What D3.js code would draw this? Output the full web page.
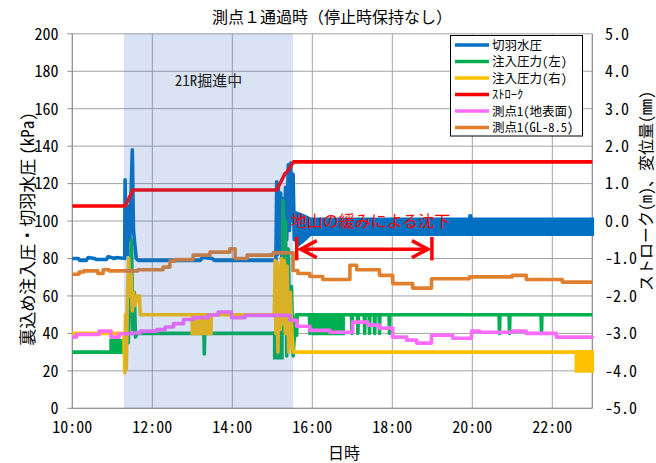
<!DOCTYPE html>
<html><head><meta charset="utf-8">
<script src="https://cdn.jsdelivr.net/npm/d3@7"></script>
<style>
body{margin:0;background:#fff;}
svg text{font-family:"Noto Sans CJK JP","Noto Sans CJK SC",sans-serif;}
.hw{font-feature-settings:"hwid";}
</style></head><body>
<svg id="chart" width="656" height="463"></svg>
<script>
// ---------- data (time in decimal hours) ----------
const xTickHours = [10,12,14,16,18,20,22];
const xTickLabels = ["10:00","12:00","14:00","16:00","18:00","20:00","22:00"];
const leftTicks = [0,20,40,60,80,100,120,140,160,180,200];
const rightTicks = [-5,-4,-3,-2,-1,0,1,2,3,4,5];
const seriesNames = ["切羽水圧","注入圧力(左)","注入圧力(右)","ｽﾄﾛｰｸ","測点1(地表面)","測点1(GL-8.5)"];

const shadeRange = [11.29, 15.52];
const shadeLabel = "21R掘進中";
const settleLabel = "地山の緩みによる沈下";
const settleSpan = [15.61, 18.99];

// 切羽水圧 (kPa)
const faceWater = [[10.00,80],[10.15,80],[10.18,79],[10.35,79],[10.40,80.5],[10.55,80],[10.60,79.5],[10.85,79.5],[10.90,81],[11.05,80],[11.10,80.5],[11.31,80],
 [11.32,122],[11.34,84],[11.36,100],[11.38,82],[11.41,108],[11.44,90],[11.47,115],[11.50,138],[11.53,95],[11.56,88],[11.60,80],
 [11.65,79],[13.20,79],[13.25,80.5],[13.50,80],[13.55,79],[15.09,79],
 [15.11,121],[15.13,82],[15.15,118],[15.18,85],[15.21,115],[15.24,80],[15.27,112],[15.30,84],[15.33,118],[15.36,90],[15.40,130],[15.43,95],[15.46,131],[15.49,100],[15.52,125],[15.55,90],[15.58,104],[15.61,88],[15.63,97]];
// rapid oscillation envelope of 切羽水圧: [time, low, high]
const faceBand = [[15.62,87,104],[15.75,89,103],[15.95,93,101],[19.93,93,101],[19.95,93,103.5],[19.97,93,101],[23.00,93,101]];

// 注入圧力(左) (kPa)
const injLeft = [[10.00,30],[10.97,30],[11.28,33],[11.31,36],[11.33,27],[11.36,50],[11.40,35],[11.44,70],[11.48,90],[11.51,42],[11.55,62],[11.58,38],[11.62,40],
 [13.29,40],[13.30,29],[13.31,40],[15.06,40],[15.24,40],[15.27,111],[15.30,55],[15.33,100],[15.36,28],[15.40,85],[15.44,35],[15.48,65],[15.52,28],[15.57,45],[15.60,50],
 [15.61,39],[15.62,50],[15.93,50],[15.94,40],[15.95,50],[16.02,50],[16.77,50],
 [16.98,50],[16.99,40],[17.00,50],[17.13,50],[17.14,40],[17.15,50],[17.30,50],[17.31,40],[17.32,50],[17.42,50],[17.43,40],[17.44,50],
 [17.55,50],[17.56,40],[17.57,50],[17.67,50],[17.68,40],[17.69,50],[17.92,50],[17.93,40],[17.94,50],
 [20.67,50],[20.68,40],[20.69,50],[20.92,50],[20.93,40],[20.94,50],[21.72,50],[21.73,40],[21.74,50],[23.00,50]];
// rapid oscillation blocks: [start, end, low, high]
const injLeftBlocks = [[10.97,11.28,30,36],[15.06,15.24,27,40],[16.02,16.77,40,50]];

// 注入圧力(右) (kPa)
const injRight = [[10.00,40],[11.29,40],[11.31,19],[11.33,50],[11.35,21],[11.38,62],[11.41,80],[11.44,60],[11.47,72],[11.50,52],[11.53,62],[11.57,55],[11.62,60],[11.68,60],[11.70,50],
 [15.05,50],[15.07,79],[15.09,40],[15.12,78],[15.14,30],[15.17,76],[15.20,42],[15.23,80],[15.26,45],[15.30,79],[15.33,40],[15.37,76],[15.41,30],[15.45,62],[15.49,40],[15.52,30],[23.00,30]];
const injRightBlocks = [[13.00,13.47,40,49],[22.60,23.00,20,30]];

// ストローク (m)
const stroke = [[10.00,0.40],[11.32,0.40],[11.52,0.83],[15.11,0.83],[15.32,1.27],[15.36,1.30],[15.53,1.58],[23.00,1.58]];

// 測点1(地表面) (mm)
const surface = [[10.00,-3.10],[10.10,-3.03],[10.67,-2.94],[10.97,-3.10],[11.17,-3.01],[11.49,-2.99],[11.70,-2.94],[12.11,-2.90],[12.32,-2.83],[12.53,-2.74],[12.78,-2.63],[13.03,-2.58],[13.40,-2.51],[13.65,-2.43],[13.98,-2.58],[14.32,-2.52],[15.44,-2.65],[15.61,-2.81],[15.94,-2.92],[16.44,-2.97],[17.01,-2.70],[17.39,-2.78],[17.68,-2.86],[18.01,-3.10],[18.36,-3.18],[18.61,-3.26],[18.98,-3.05],[19.51,-3.13],[19.98,-2.94],[20.18,-2.97],[21.00,-2.94],[21.35,-3.00],[22.10,-3.10],[23.00,-3.12]];

// 測点1(GL-8.5) (mm)
const deep = [[10.00,-1.42],[10.17,-1.36],[10.29,-1.33],[10.64,-1.40],[10.77,-1.30],[10.92,-1.33],[11.64,-1.30],[12.27,-1.23],[12.44,-1.07],[12.57,-1.03],[13.02,-0.91],[13.44,-0.83],[13.94,-0.74],[14.07,-1.00],[14.37,-0.91],[15.02,-0.85],[15.52,-1.32],[15.64,-1.40],[15.94,-1.48],[16.26,-1.56],[16.94,-1.18],[17.11,-1.30],[17.68,-1.45],[18.01,-1.67],[18.51,-1.79],[18.98,-1.54],[19.93,-1.49],[21.00,-1.45],[21.35,-1.56],[22.25,-1.63],[23.00,-1.63]];

// ---------- styles ----------
const colors = ["#0070C0","#00B050","#FFC000","#FF0000","#FF6BFF","#E0802F"];
const LW = 3.6;

const svg = d3.select("#chart");
const W = 656, H = 463;
const pl = 72.3, pr = 592.3, pt = 33.8, pb = 408.3;

const x = d3.scaleLinear().domain([10,23]).range([pl,pr]);
const yL = d3.scaleLinear().domain([0,200]).range([pb,pt]);
const yR = d3.scaleLinear().domain([-5,5]).range([pb,pt]);

svg.append("rect").attr("width",W).attr("height",H).attr("fill","#fff");

// grid
const grid = svg.append("g");
grid.selectAll("line.h").data(leftTicks).join("line")
  .attr("x1",pl).attr("x2",pr).attr("y1",d=>yL(d)).attr("y2",d=>yL(d))
  .attr("stroke","#a3a3a3").attr("stroke-width",1);
grid.selectAll("line.v").data(xTickHours.concat([23])).join("line")
  .attr("x1",d=>x(d)).attr("x2",d=>x(d)).attr("y1",pt).attr("y2",pb)
  .attr("stroke","#a3a3a3").attr("stroke-width",1);
// axis lines
svg.append("line").attr("x1",pl).attr("x2",pl).attr("y1",pt).attr("y2",pb).attr("stroke","#8c8c8c");
svg.append("line").attr("x1",pr).attr("x2",pr).attr("y1",pt).attr("y2",pb).attr("stroke","#8c8c8c");
svg.append("line").attr("x1",pl).attr("x2",pr).attr("y1",pb).attr("y2",pb).attr("stroke","#8c8c8c");
// left ticks outward
svg.selectAll("line.lt").data(leftTicks).join("line")
  .attr("x1",pl-5).attr("x2",pl).attr("y1",d=>yL(d)).attr("y2",d=>yL(d)).attr("stroke","#8c8c8c");

const plot = svg.append("g");
const lineL = d3.line().x(d=>x(d[0])).y(d=>yL(d[1]));
const lineR = d3.line().x(d=>x(d[0])).y(d=>yR(d[1]));
const lineRStep = d3.line().x(d=>x(d[0])).y(d=>yR(d[1])).curve(d3.curveStepAfter);
const bandArea = d3.area().x(d=>x(d[0])).y0(d=>yL(d[1])).y1(d=>yL(d[2]));
function drawBlocks(blocks, color){
  blocks.forEach(b=>{
    plot.append("path").datum([[b[0],b[2],b[3]],[b[1],b[2],b[3]]])
      .attr("d",bandArea).attr("fill",color).attr("stroke",color)
      .attr("stroke-width",LW).attr("stroke-linejoin","miter");
  });
}
function drawLine(data, gen, color){
  plot.append("path").datum(data).attr("d",gen).attr("fill","none")
    .attr("stroke",color).attr("stroke-width",LW).attr("stroke-linejoin","round");
}
// 切羽水圧
drawLine(faceWater, lineL, colors[0]);
plot.append("path").datum(faceBand).attr("d",bandArea).attr("fill",colors[0])
  .attr("stroke",colors[0]).attr("stroke-width",LW);
// 注入圧力(左)
drawLine(injLeft, lineL, colors[1]);
drawBlocks(injLeftBlocks, colors[1]);
// 注入圧力(右)
drawLine(injRight, lineL, colors[2]);
drawBlocks(injRightBlocks, colors[2]);
// ストローク
drawLine(stroke, lineR, colors[3]);
// 測点1
drawLine(surface, lineRStep, colors[4]);
drawLine(deep, lineRStep, colors[5]);

// shaded excavation period (overlay)
svg.append("rect").attr("x",x(shadeRange[0])).attr("y",pt)
  .attr("width",x(shadeRange[1])-x(shadeRange[0])).attr("height",pb-pt)
  .attr("fill","#4472C4").attr("fill-opacity",0.2);
svg.append("text").attr("class","hw").attr("x",(x(shadeRange[0])+x(shadeRange[1]))/2).attr("y",86)
  .attr("text-anchor","middle").attr("font-size",15).attr("fill","#222").text(shadeLabel);

// settlement annotation
const red = "#FF0000";
const ax0 = x(settleSpan[0]), ax1 = x(settleSpan[1]);
const ay = yL(85), byTop = yL(91.5), byBot = yL(79);
const ann = svg.append("g").attr("stroke",red).attr("stroke-width",3.5).attr("fill","none");
ann.append("line").attr("x1",ax0).attr("x2",ax0).attr("y1",byTop).attr("y2",byBot);
ann.append("line").attr("x1",ax1).attr("x2",ax1).attr("y1",byTop).attr("y2",byBot);
ann.append("line").attr("x1",ax0+4).attr("x2",ax1-4).attr("y1",ay).attr("y2",ay);
ann.append("path").attr("d",`M${ax0+20},${ay-8.5}L${ax0+4},${ay}L${ax0+20},${ay+8.5}`);
ann.append("path").attr("d",`M${ax1-20},${ay-8.5}L${ax1-4},${ay}L${ax1-20},${ay+8.5}`);
svg.append("text").attr("x",ax0-6).attr("y",227).attr("font-size",16).attr("fill",red).text(settleLabel);

// tick labels
svg.selectAll("text.yl").data(leftTicks).join("text").attr("class","hw")
  .attr("x",58.5).attr("y",d=>yL(d)+5.8).attr("text-anchor","end").attr("font-size",16).attr("fill","#000")
  .text(d=>d);
svg.selectAll("text.yr").data(rightTicks).join("text").attr("class","hw")
  .attr("x",605).attr("y",d=>yR(d)+5.8).attr("text-anchor","start").attr("font-size",16).attr("fill","#000")
  .text(d=>d.toFixed(1));
svg.selectAll("text.xt").data(xTickHours).join("text").attr("class","hw")
  .attr("x",d=>x(d)).attr("y",433).attr("text-anchor","middle").attr("font-size",16).attr("fill","#000")
  .text((d,i)=>xTickLabels[i]);

// titles
svg.append("text").attr("x",332).attr("y",23).attr("text-anchor","middle").attr("font-size",16).attr("fill","#000")
  .text("測点１通過時（停止時保持なし）");
svg.append("text").attr("x",344).attr("y",459).attr("text-anchor","middle").attr("font-size",16).attr("fill","#000").text("日時");
const lt = svg.append("text").attr("transform","translate(34,229) rotate(-90)").attr("text-anchor","middle").attr("font-size",17).attr("fill","#000");
lt.append("tspan").text("裏込め注入圧・切羽水圧 ");
lt.append("tspan").attr("class","hw").text("(kPa)");
const rt = svg.append("text").attr("transform","translate(652,191) rotate(-90)").attr("text-anchor","middle").attr("font-size",16).attr("fill","#000");
rt.append("tspan").text("ストローク");
rt.append("tspan").attr("class","hw").text("(m)");
rt.append("tspan").text("、変位量");
rt.append("tspan").attr("class","hw").text("(mm)");

// legend
const lg = svg.append("g");
lg.append("rect").attr("x",450.5).attr("y",35.5).attr("width",132).attr("height",100.5)
  .attr("fill","#fff").attr("stroke","#000").attr("stroke-width",1);
seriesNames.forEach((n,i)=>{
  const yy = 45 + i*16.5;
  lg.append("line").attr("x1",455).attr("x2",489).attr("y1",yy).attr("y2",yy)
    .attr("stroke",colors[i]).attr("stroke-width",LW);
  lg.append("text").attr("class","hw").attr("x",492).attr("y",yy+4.5).attr("font-size",12.5).attr("fill","#000").text(n);
});
</script>
</body></html>
